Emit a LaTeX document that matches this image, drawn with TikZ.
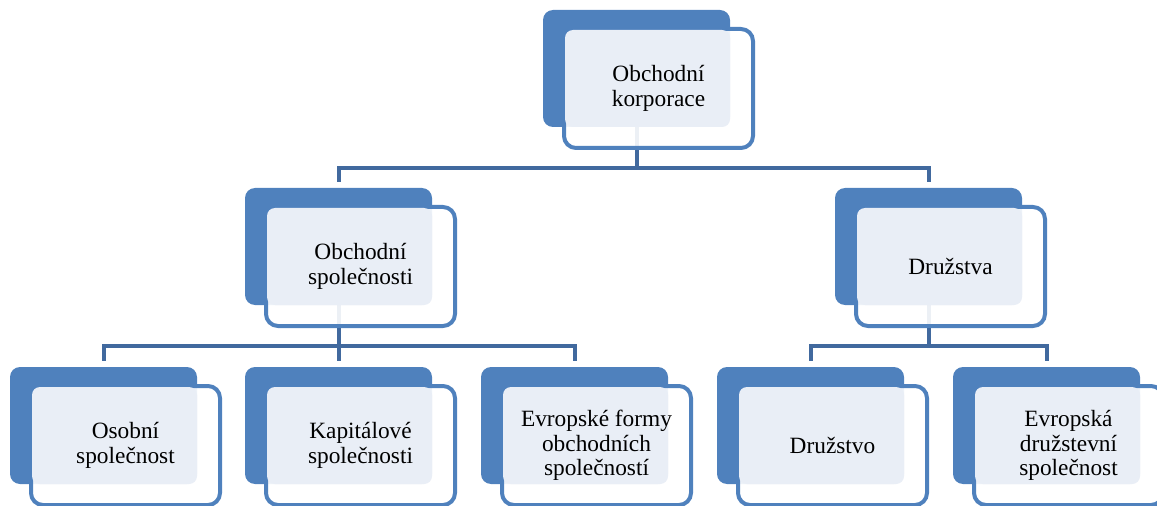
\documentclass[tikz,border=0pt]{standalone}
\usepackage{fontspec}
\setmainfont{Liberation Serif}
\definecolor{boxblue}{HTML}{4F81BD}
\definecolor{linkblue}{HTML}{41699E}
\definecolor{panefill}{HTML}{E9EEF6}
\begin{document}
\begin{tikzpicture}[x=0.75pt, y=-0.75pt,
	back/.style={fill=boxblue, rounded corners=7.5pt, inner sep=0, minimum width=140.25pt, minimum height=87.75pt},
	frame/.style={draw=boxblue, line width=3pt, fill=white, fill opacity=0.9, rounded corners=9pt, inner sep=0, minimum width=141.75pt, minimum height=89.25pt},
	pane/.style={fill=panefill, rounded corners=6pt, inner sep=0, minimum width=123.75pt, minimum height=72.75pt},
	txt/.style={align=center, inner sep=0, font=\fontsize{17.5pt}{18.4pt}\selectfont},
	conn/.style={draw=linkblue, line width=3pt}]
		\useasboundingbox (0,0) rectangle (1157,506);
		\clip (0,0) rectangle (1157,506);
		% blue back plates
		\node[back] (ok) at (636.5,68.5) {};
		\node[back] (os) at (338.5,246.5) {};
		\node[back] (dr) at (928.5,246.5) {};
		\node[back] (osp) at (103.5,425.5) {};
		\node[back] (kap) at (338.5,425.5) {};
		\node[back] (evf) at (574.5,425.5) {};
		\node[back] (dru) at (810.5,425.5) {};
		\node[back] (evd) at (1046.5,425.5) {};
		% connectors
		\draw[conn] (ok.south) -- ++(0,41) -| ([yshift=4pt]os.north);
		\draw[conn] (ok.south) -- ++(0,41) -| ([yshift=4pt]dr.north);
		\draw[conn] (os.south) -- ++(0,41) -| ([yshift=4pt]osp.north);
		\draw[conn] (os.south) -- ++(0,41) -| ([yshift=4pt]kap.north);
		\draw[conn] (os.south) -- ++(0,41) -| ([yshift=4pt]evf.north);
		\draw[conn] (dr.south) -- ++(0,41) -| ([yshift=4pt]dru.north);
		\draw[conn] (dr.south) -- ++(0,41) -| ([yshift=4pt]evd.north);
		% front frames
		\node[frame] (okf) at (658.5,88.5) {};
		\node[pane] (okp) at (647.5,78.5) {};
		\node[txt] (okt) at (okf) {Obchodní\\korporace};
		\node[frame] (osf) at (360.5,266.5) {};
		\node[pane] (osp2) at (349.5,256.5) {};
		\node[txt] (ost) at (osf) {Obchodní\\společnosti};
		\node[frame] (drf) at (950.5,266.5) {};
		\node[pane] (drp) at (939.5,256.5) {};
		\node[txt] (drt) at (drf) {Družstva};
		\node[frame] (ospf) at (125.5,445.5) {};
		\node[pane] (ospp) at (114.5,435.5) {};
		\node[txt] (ospt) at (ospf) {Osobní\\společnost};
		\node[frame] (kapf) at (360.5,445.5) {};
		\node[pane] (kapp) at (349.5,435.5) {};
		\node[txt] (kapt) at (kapf) {Kapitálové\\společnosti};
		\node[frame] (evff) at (596.5,445.5) {};
		\node[pane] (evfp) at (585.5,435.5) {};
		\node[txt] (evft) at (evff) {Evropské formy\\obchodních\\společností};
		\node[frame] (druf) at (832.5,445.5) {};
		\node[pane] (drup) at (821.5,435.5) {};
		\node[txt] (drut) at (druf) {Družstvo};
		\node[frame] (evdf) at (1068.5,445.5) {};
		\node[pane] (evdp) at (1057.5,435.5) {};
		\node[txt] (evdt) at (evdf) {Evropská\\družstevní\\společnost};
\end{tikzpicture}
\end{document}
